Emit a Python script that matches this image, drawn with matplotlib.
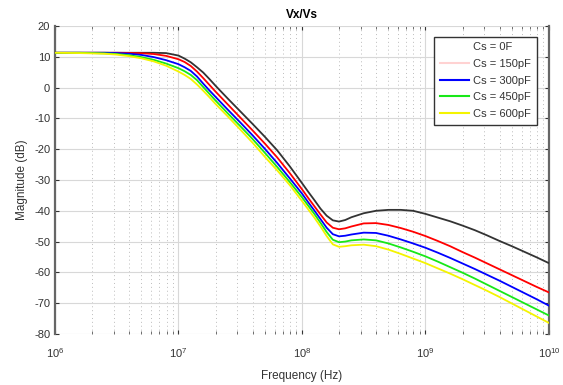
import matplotlib
matplotlib.use("Agg")
import matplotlib.pyplot as plt
from matplotlib.lines import Line2D
from matplotlib.ticker import LogLocator, NullFormatter, FixedLocator
import numpy as np

plt.rcParams['font.family'] = ['Liberation Sans', 'DejaVu Sans']
plt.rcParams['axes.unicode_minus'] = False

# log10 of frequency (Hz) at which the magnitudes are sampled
freq_exp = [6.0, 6.2, 6.4, 6.5, 6.6, 6.7, 6.8, 6.9, 7.0, 7.05, 7.1, 7.15, 7.2, 7.25,
            7.3, 7.4, 7.5, 7.6, 7.7, 7.8, 7.9, 8.0, 8.05, 8.1, 8.15, 8.2, 8.25, 8.3,
            8.35, 8.4, 8.5, 8.6, 8.7, 8.8, 8.9, 9.0, 9.1, 9.2, 9.3, 9.4, 9.5, 9.6,
            9.7, 9.8, 9.9, 10.0]

# |Vx/Vs| in dB for each source capacitance
mag_0f = [11.3, 11.3, 11.3, 11.3, 11.3, 11.3, 11.3, 11.2, 10.4, 9.4, 8.2, 6.6, 4.9, 2.8,
          0.6, -3.6, -7.7, -11.8, -16.0, -20.4, -25.5, -31.0, -33.8, -36.5, -39.3, -41.6,
          -43.1, -43.5, -43.0, -42.1, -40.8, -40.0, -39.7, -39.7, -40.0, -41.0, -42.2,
          -43.4, -44.8, -46.3, -48.0, -49.8, -51.5, -53.3, -55.1, -57.0]
mag_150p = [11.3, 11.3, 11.3, 11.3, 11.25, 11.15, 10.9, 10.3, 9.2, 8.3, 7.0, 5.2, 3.1, 0.9,
            -1.3, -5.5, -9.7, -13.9, -18.2, -22.7, -27.7, -33.0, -35.8, -38.5, -41.2, -43.8,
            -45.5, -46.0, -45.7, -45.1, -44.1, -44.0, -44.6, -45.6, -46.8, -48.2, -49.8,
            -51.5, -53.4, -55.2, -57.1, -59.0, -60.9, -62.8, -64.7, -66.5]
mag_300p = [11.3, 11.3, 11.3, 11.2, 11.0, 10.6, 9.9, 8.9, 7.6, 6.6, 5.4, 3.6, 1.3, -0.9,
            -3.0, -7.2, -11.3, -15.5, -19.9, -24.5, -29.4, -34.4, -37.2, -39.9, -42.7, -45.5,
            -47.6, -48.3, -48.1, -47.7, -47.1, -47.2, -48.1, -49.3, -50.6, -52.0, -53.6,
            -55.3, -57.1, -58.9, -60.8, -62.7, -64.7, -66.7, -68.7, -70.8]
mag_450p = [11.3, 11.3, 11.1, 10.9, 10.5, 9.9, 9.0, 7.8, 6.3, 5.3, 4.1, 2.4, 0.2, -2.0,
            -4.2, -8.4, -12.5, -16.7, -21.2, -25.8, -30.6, -35.6, -38.3, -41.0, -43.9, -46.9,
            -49.4, -50.2, -50.0, -49.6, -49.3, -49.6, -50.6, -51.9, -53.3, -54.8, -56.5,
            -58.3, -60.1, -62.0, -64.0, -66.0, -68.0, -70.0, -72.0, -74.0]
mag_600p = [11.3, 11.2, 11.0, 10.7, 10.2, 9.5, 8.5, 7.1, 5.2, 4.1, 2.8, 1.0, -1.0, -3.1,
            -5.3, -9.4, -13.6, -17.9, -22.5, -26.9, -31.6, -36.8, -39.5, -42.2, -45.1, -48.2,
            -50.9, -51.7, -51.5, -51.2, -51.0, -51.5, -52.6, -54.0, -55.5, -57.0, -58.7,
            -60.4, -62.2, -64.1, -66.0, -68.0, -70.1, -72.2, -74.3, -76.4]

labels = ['Cs = 0F', 'Cs = 150pF', 'Cs = 300pF', 'Cs = 450pF', 'Cs = 600pF']
curve_colors = ['#333333', '#ff0000', '#0000ff', '#18e818', '#f4f400']
legend_colors = ['#ffffff', '#ffd2d2', '#0000ff', '#18e818', '#f4f400']

y_ticks = [20, 10, 0, -10, -20, -30, -40, -50, -60, -70, -80]

freq = np.power(10.0, freq_exp)
series = [mag_0f, mag_150p, mag_300p, mag_450p, mag_600p]

fig = plt.figure(figsize=(5.63, 3.85), dpi=100)
ax = fig.add_axes([0.0977, 0.1325, 0.8773, 0.80])

for mags, c in zip(series, curve_colors):
    ax.semilogx(freq, mags, color=c, lw=1.3, zorder=3)

ax.set_xlim(1e6, 1e10)
ax.set_ylim(-80, 20)
ax.yaxis.set_major_locator(FixedLocator(y_ticks))
ax.xaxis.set_major_locator(LogLocator(base=10, numticks=10))
ax.xaxis.set_minor_locator(LogLocator(base=10, subs=np.arange(2, 10), numticks=20))
ax.xaxis.set_minor_formatter(NullFormatter())

ax.grid(True, which='major', color='#d8d8d8', lw=0.8, ls='-', zorder=0)
ax.grid(True, which='minor', axis='x', color='#bcbcbc', lw=0.7, ls=(0, (1, 3)), zorder=0)

for side in ('top', 'bottom'):
    ax.spines[side].set_visible(False)
for side in ('left', 'right'):
    ax.spines[side].set_color('#666666')
    ax.spines[side].set_linewidth(1.6)

ax.tick_params(axis='both', which='major', direction='in', length=3, width=0.8,
               colors='#333333', labelsize=8, top=True, right=True)
ax.tick_params(axis='x', which='minor', direction='in', length=2, width=0.6,
               colors='#555555', top=True)
ax.tick_params(axis='x', which='major', pad=9)
for lbl in ax.get_xticklabels() + ax.get_yticklabels():
    lbl.set_color('#333333')

ax.set_title('Vx/Vs', fontsize=8.5, fontweight='bold', pad=6)
ax.set_xlabel('Frequency (Hz)', fontsize=8.5, color='#333333', labelpad=7)
ax.set_ylabel('Magnitude (dB)', fontsize=8.5, color='#333333', labelpad=4)

handles = [Line2D([0], [0], color=c, lw=1.5) for c in legend_colors]
leg = ax.legend(handles, labels, loc='upper right', bbox_to_anchor=(0.975, 0.965),
                fontsize=8, frameon=True, fancybox=False, handlelength=2.6,
                handletextpad=0.4, labelspacing=0.6, borderpad=0.5, borderaxespad=0.0)
leg.get_frame().set_edgecolor('#333333')
leg.get_frame().set_linewidth(1.0)
leg.get_frame().set_alpha(1.0)
for t in leg.get_texts():
    t.set_color('#333333')

fig.savefig('out.png', dpi=100)
